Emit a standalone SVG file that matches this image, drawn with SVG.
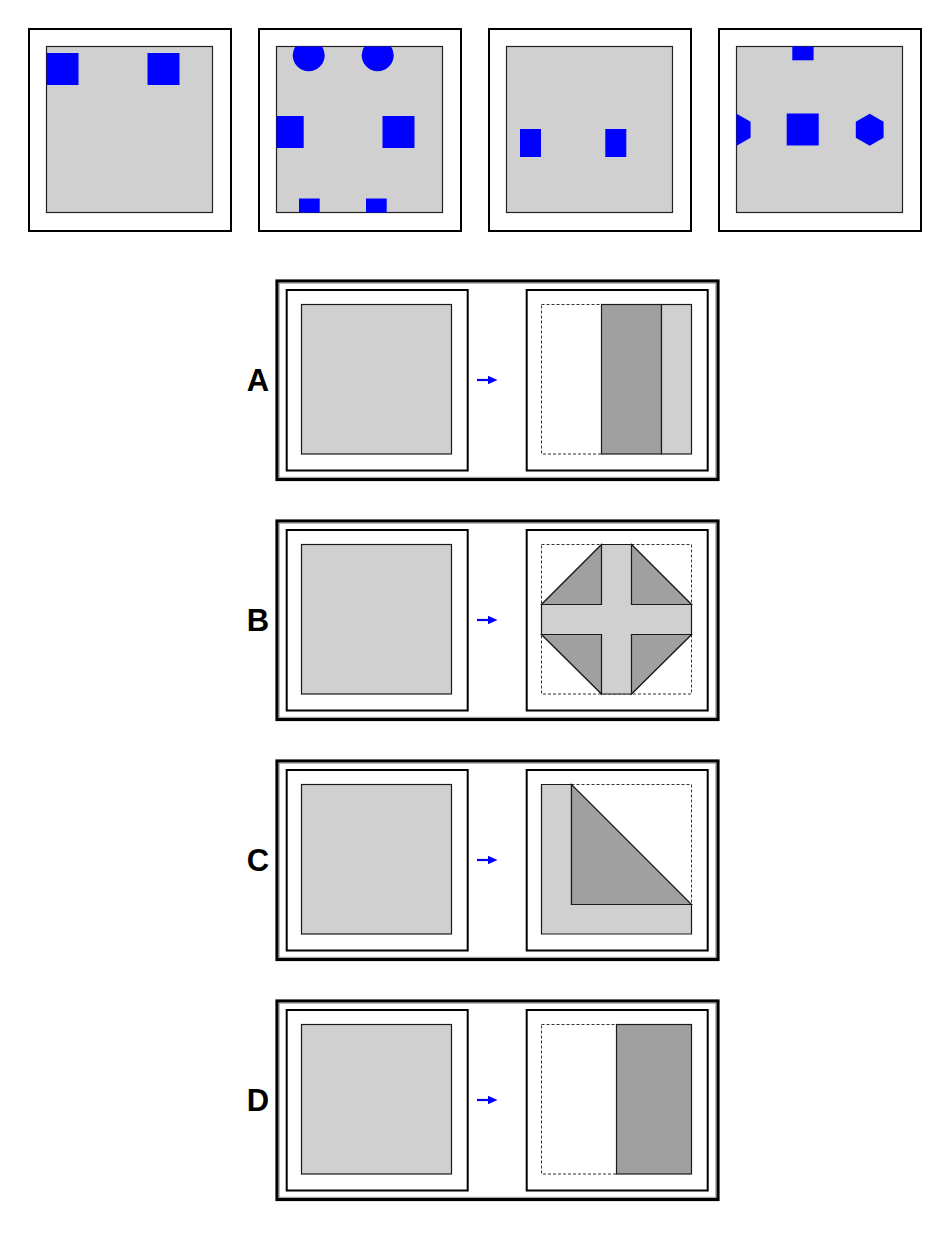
<svg xmlns="http://www.w3.org/2000/svg" width="950" height="1240" viewBox="0 0 950 1240">
<style>
.bg{fill:#fff}
.po{fill:#fff;stroke:#000;stroke-width:2}
.pi{fill:#d0d0d0;stroke:#222;stroke-width:1.2}
.bl{fill:#0000ff}
.fr{fill:#fff;stroke:#000;stroke-width:3.2}
.fr2{fill:none;stroke:#999;stroke-width:1}
.wb{fill:#fff;stroke:#000;stroke-width:2}
.lg{fill:#d0d0d0;stroke:#1a1a1a;stroke-width:1.2}
.dg{fill:#a0a0a0;stroke:#1a1a1a;stroke-width:1.2}
.ds{fill:#fff;stroke:#333;stroke-width:1;stroke-dasharray:3,2}
.dl{fill:none;stroke:#333;stroke-width:1;stroke-dasharray:3,2}
.lab{font-family:"Liberation Sans",Arial,sans-serif;font-weight:bold;font-size:31px;fill:#000;text-anchor:middle}
</style>
<defs>
<clipPath id="c1"><rect x="46.5" y="46.5" width="166" height="166"/></clipPath>
<clipPath id="c2"><rect x="276.5" y="46.5" width="166" height="166"/></clipPath>
<clipPath id="c3"><rect x="506.5" y="46.5" width="166" height="166"/></clipPath>
<clipPath id="c4"><rect x="736.5" y="46.5" width="166" height="166"/></clipPath>
<g id="arrowSym"><line x1="477" y1="380" x2="490" y2="380" stroke="#0000ff" stroke-width="2.2"/><polygon points="488,375.8 497.5,380 488,384.2" fill="#0000ff"/></g>
</defs>
<rect width="950" height="1240" class="bg"/>

<g id="panel1">
<rect x="29" y="29" width="202" height="202" class="po"/>
<rect x="46.5" y="46.5" width="166" height="166" class="pi"/>
<g clip-path="url(#c1)">
<rect x="46.5" y="53" width="32" height="32" class="bl"/>
<rect x="147.5" y="53" width="32" height="32" class="bl"/>
</g>
</g>

<g id="panel2">
<rect x="259" y="29" width="202" height="202" class="po"/>
<rect x="276.5" y="46.5" width="166" height="166" class="pi"/>
<g clip-path="url(#c2)">
<circle cx="308.7" cy="55.3" r="16" class="bl"/>
<circle cx="377.7" cy="55.3" r="16" class="bl"/>
<rect x="271.7" y="116" width="32" height="32" class="bl"/>
<rect x="382.5" y="116" width="32" height="32" class="bl"/>
<rect x="299" y="198.5" width="20.7" height="21" class="bl"/>
<rect x="366" y="198.5" width="20.7" height="21" class="bl"/>
</g>
</g>

<g id="panel3">
<rect x="489" y="29" width="202" height="202" class="po"/>
<rect x="506.5" y="46.5" width="166" height="166" class="pi"/>
<g clip-path="url(#c3)">
<rect x="520" y="129" width="21" height="28" class="bl"/>
<rect x="605.3" y="129" width="21" height="28" class="bl"/>
</g>
</g>

<g id="panel4">
<rect x="719" y="29" width="202" height="202" class="po"/>
<rect x="736.5" y="46.5" width="166" height="166" class="pi"/>
<g clip-path="url(#c4)">
<rect x="792.3" y="40" width="21.3" height="20.3" class="bl"/>
<rect x="786.7" y="113.5" width="32" height="32" class="bl"/>
<polygon points="736.7,113.7 750.6,121.7 750.6,137.7 736.7,145.7 722.8,137.7 722.8,121.7" class="bl"/>
<polygon points="869.7,113.7 883.6,121.7 883.6,137.7 869.7,145.7 855.8,137.7 855.8,121.7" class="bl"/>
</g>
</g>

<g id="rowA">
<rect x="277" y="281" width="441" height="198.5" class="fr"/>
<rect x="279.2" y="283.2" width="436.6" height="194.1" class="fr2"/>
<text x="258" y="390.5" class="lab">A</text>
<rect x="286.7" y="290" width="181" height="180.5" class="wb"/>
<rect x="301.5" y="304.5" width="150" height="149.5" class="lg"/>
<rect x="526.7" y="290" width="181" height="180.5" class="wb"/>
<rect x="541.5" y="304.5" width="60" height="149.5" class="ds"/>
<rect x="601.5" y="304.5" width="60" height="149.5" class="dg"/>
<rect x="661.5" y="304.5" width="30" height="149.5" class="lg"/>
</g>

<g id="rowB" transform="translate(0,240)">
<rect x="277" y="281" width="441" height="198.5" class="fr"/>
<rect x="279.2" y="283.2" width="436.6" height="194.1" class="fr2"/>
<text x="258" y="390.5" class="lab">B</text>
<rect x="286.7" y="290" width="181" height="180.5" class="wb"/>
<rect x="301.5" y="304.5" width="150" height="149.5" class="lg"/>
<rect x="526.7" y="290" width="181" height="180.5" class="wb"/>
<rect x="541.5" y="304.5" width="150" height="149.5" class="ds"/>
<polygon points="601.5,304.5 631.5,304.5 691.5,364.5 691.5,394.5 631.5,454 601.5,454 541.5,394.5 541.5,364.5" class="lg"/>
<polygon points="601.5,304.5 541.5,364.5 601.5,364.5" class="dg"/>
<polygon points="631.5,304.5 631.5,364.5 691.5,364.5" class="dg"/>
<polygon points="541.5,394.5 601.5,394.5 601.5,454" class="dg"/>
<polygon points="631.5,394.5 691.5,394.5 631.5,454" class="dg"/>
</g>

<g id="rowC" transform="translate(0,480)">
<rect x="277" y="281" width="441" height="198.5" class="fr"/>
<rect x="279.2" y="283.2" width="436.6" height="194.1" class="fr2"/>
<text x="258" y="390.5" class="lab">C</text>
<rect x="286.7" y="290" width="181" height="180.5" class="wb"/>
<rect x="301.5" y="304.5" width="150" height="149.5" class="lg"/>
<rect x="526.7" y="290" width="181" height="180.5" class="wb"/>
<polygon points="541.5,304.5 571.5,304.5 571.5,424.5 691.5,424.5 691.5,454 541.5,454" class="lg"/>
<polyline points="571.5,304.5 691.5,304.5 691.5,424.5" class="dl"/>
<polygon points="571.5,304.5 571.5,424.5 691.5,424.5" class="dg"/>
</g>

<g id="rowD" transform="translate(0,720)">
<rect x="277" y="281" width="441" height="198.5" class="fr"/>
<rect x="279.2" y="283.2" width="436.6" height="194.1" class="fr2"/>
<text x="258" y="390.5" class="lab">D</text>
<rect x="286.7" y="290" width="181" height="180.5" class="wb"/>
<rect x="301.5" y="304.5" width="150" height="149.5" class="lg"/>
<rect x="526.7" y="290" width="181" height="180.5" class="wb"/>
<rect x="541.5" y="304.5" width="75" height="149.5" class="ds"/>
<rect x="616.5" y="304.5" width="75" height="149.5" class="dg"/>
</g>

<g id="connectors">
<use href="#arrowSym"/>
<use href="#arrowSym" transform="translate(0,240)"/>
<use href="#arrowSym" transform="translate(0,480)"/>
<use href="#arrowSym" transform="translate(0,720)"/>
</g>
</svg>
